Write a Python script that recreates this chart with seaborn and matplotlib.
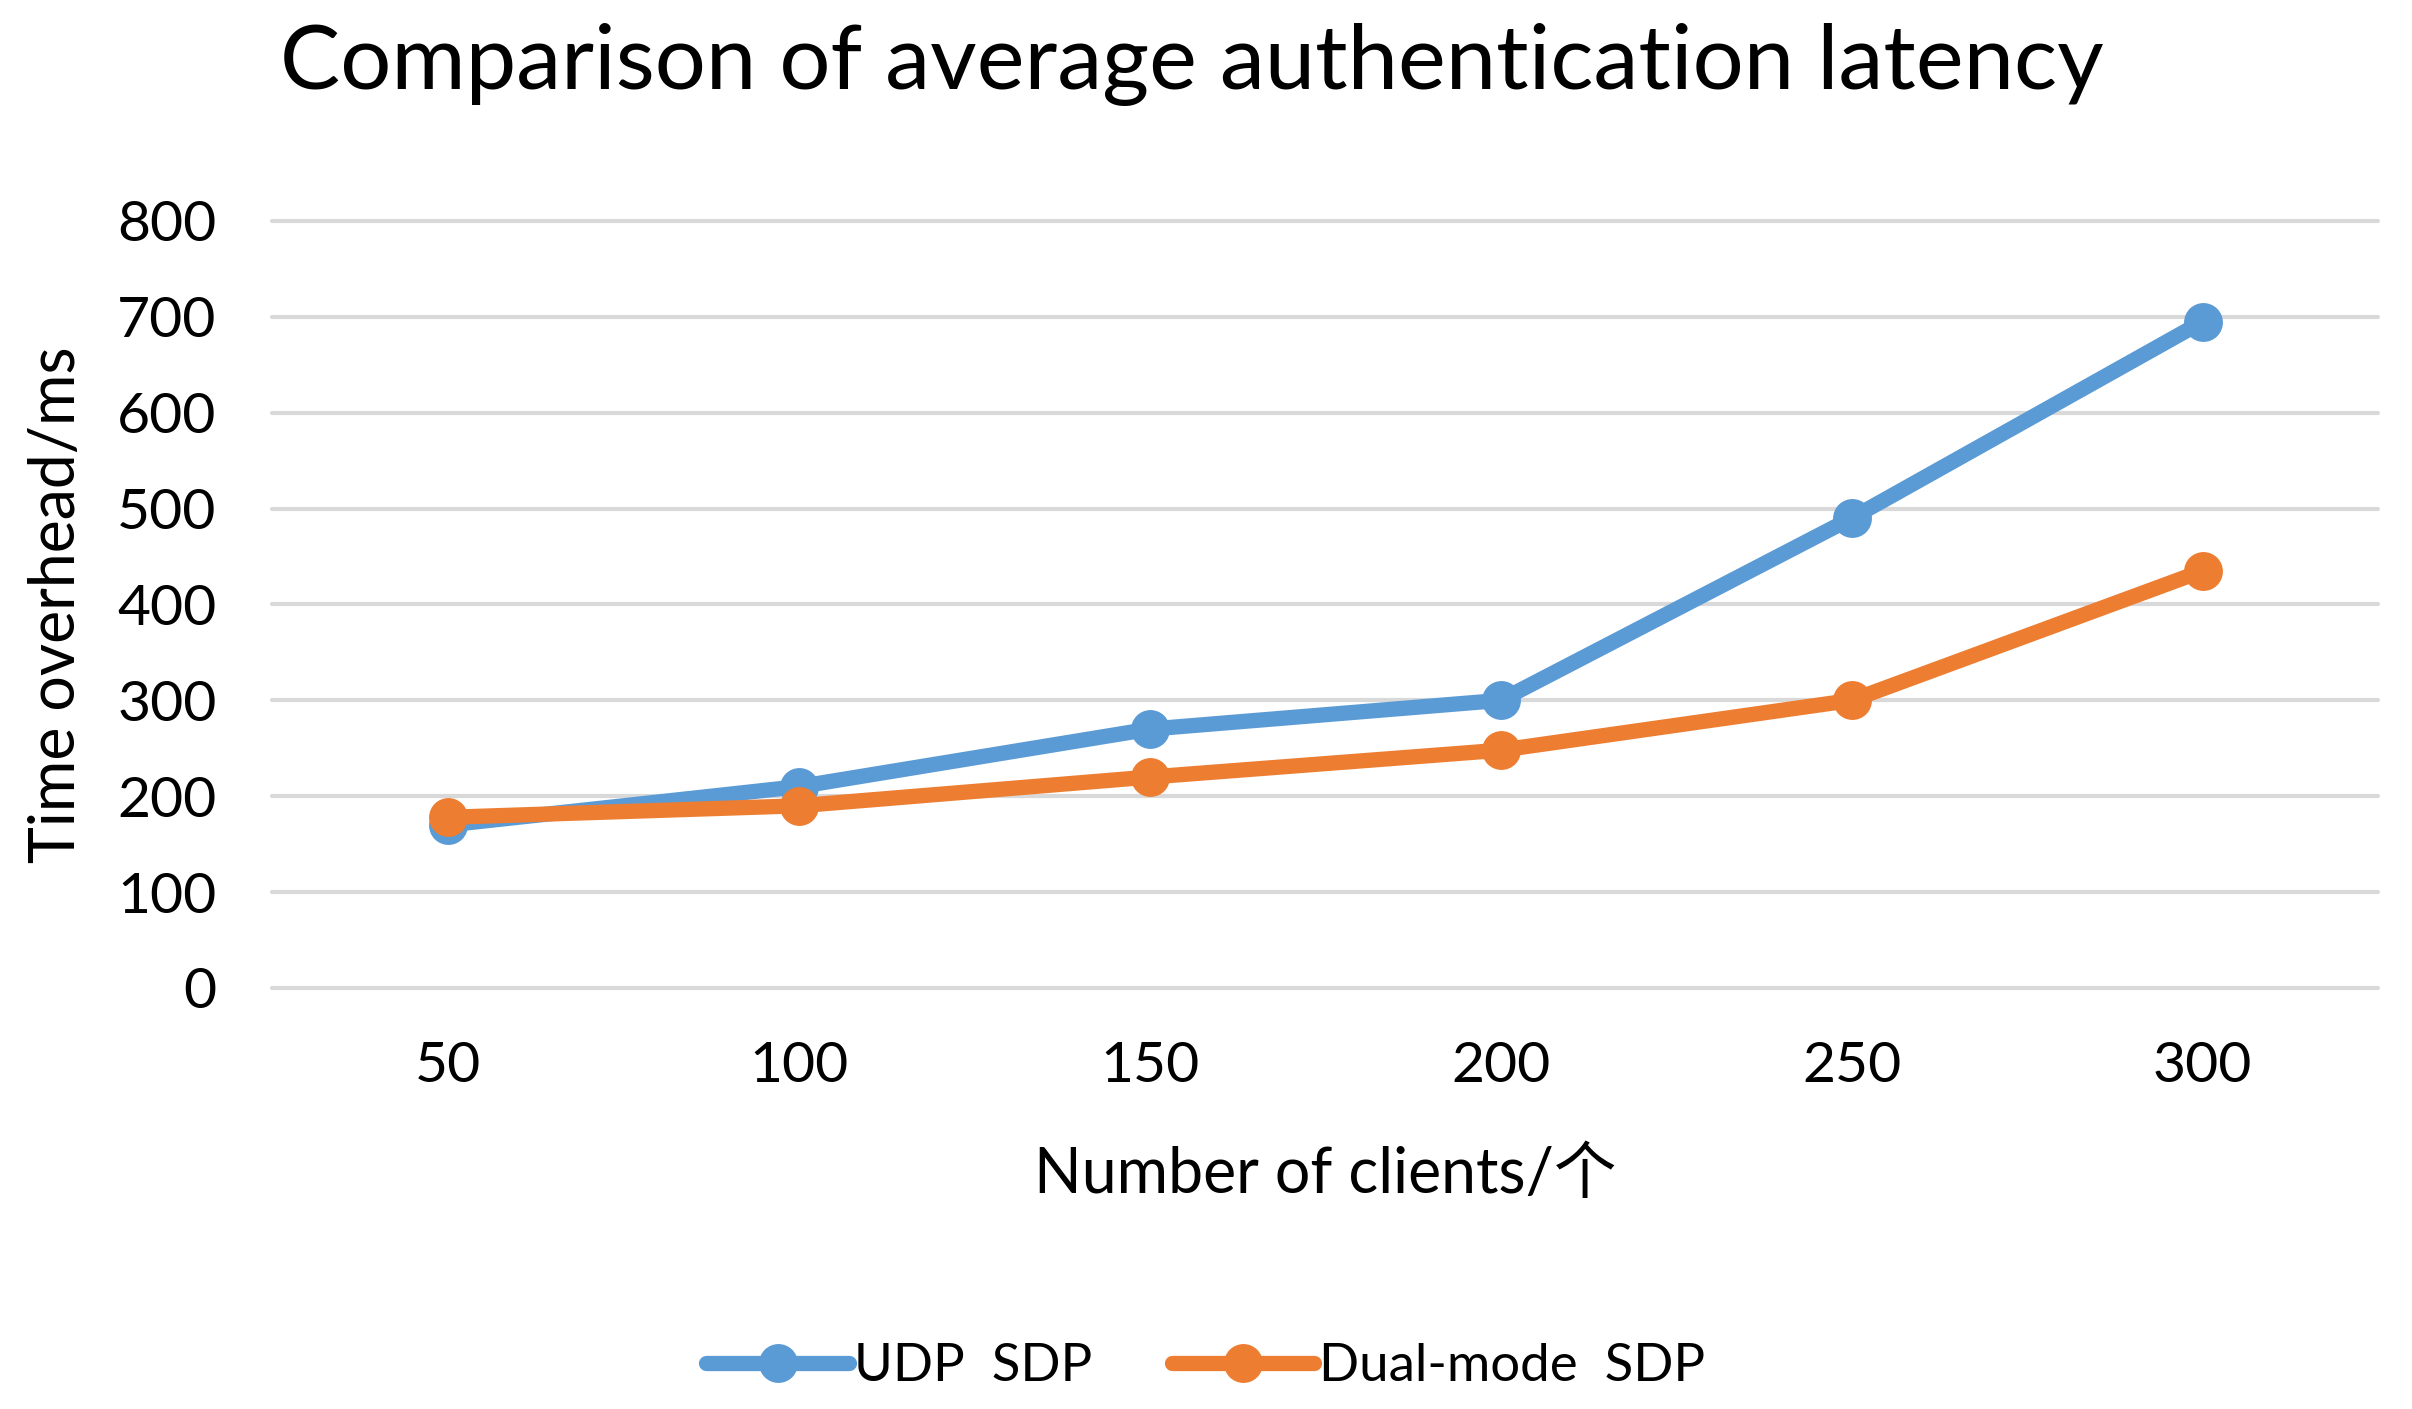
import pandas as pd
import matplotlib
matplotlib.use('Agg')
import matplotlib.pyplot as plt
import seaborn as sns

clients = ['50', '100', '150', '200', '250', '300']
udp_sdp = [170, 210, 270, 300, 490, 695]
dual_sdp = [178, 190, 220, 248, 300, 435]
series_names = ['UDP  SDP', 'Dual-mode  SDP']
colors = ['#5B9BD5', '#ED7D31']

sns.set_style('white')
plt.rcParams['font.family'] = ['Lato', 'Noto Sans CJK SC', 'DejaVu Sans']
plt.rcParams['text.color'] = 'black'
plt.rcParams['axes.labelcolor'] = 'black'

df = pd.DataFrame({
    'pos': list(range(len(clients))) * 2,
    'latency': udp_sdp + dual_sdp,
    'series': [series_names[0]] * len(clients) + [series_names[1]] * len(clients),
})

fig = plt.figure(figsize=(24.12, 14.09), dpi=100)
ax = fig.add_axes([0.1128, 0.2988, 0.8732, 0.5444])

sns.lineplot(data=df, x='pos', y='latency', hue='series', palette=colors,
             marker='o', markersize=28, markeredgewidth=0, linewidth=11,
             ax=ax, legend=False)

ax.set_xlim(-0.5, len(clients) - 0.5)
ax.set_ylim(0, 800)
ax.set_yticks(range(0, 801, 100))
ax.set_xticks(range(len(clients)))
ax.set_xticklabels(clients)
ax.grid(axis='y', color='#D9D9D9', linewidth=3)
ax.grid(axis='x', visible=False)
for gl in ax.yaxis.get_gridlines():
    gl.set_clip_on(False)
for s in ax.spines.values():
    s.set_visible(False)
ax.tick_params(axis='both', length=0, labelsize=41, colors='black')
ax.tick_params(axis='y', pad=40)
ax.tick_params(axis='x', pad=38)

ax.set_xlabel('Number of clients/个', fontsize=45, va='center')
ax.xaxis.set_label_coords(0.5, -0.244)
ax.set_ylabel('Time overhead/ms', fontsize=45, va='center')
ax.yaxis.set_label_coords(-0.102, 0.5)

fig.text(0.494, 0.954, 'Comparison of average authentication latency',
         ha='center', va='center', fontsize=65)

handles = [plt.Line2D([], [], color=c, linewidth=11, marker='o', markersize=28,
                      markeredgewidth=0) for c in colors]
fig.legend(handles, series_names, loc='center', bbox_to_anchor=(0.5, 0.03),
           ncol=2, frameon=False, fontsize=38, handlelength=2.7,
           handletextpad=0.1, columnspacing=1.5)

plt.savefig('out.png', dpi=100)
plt.close()
